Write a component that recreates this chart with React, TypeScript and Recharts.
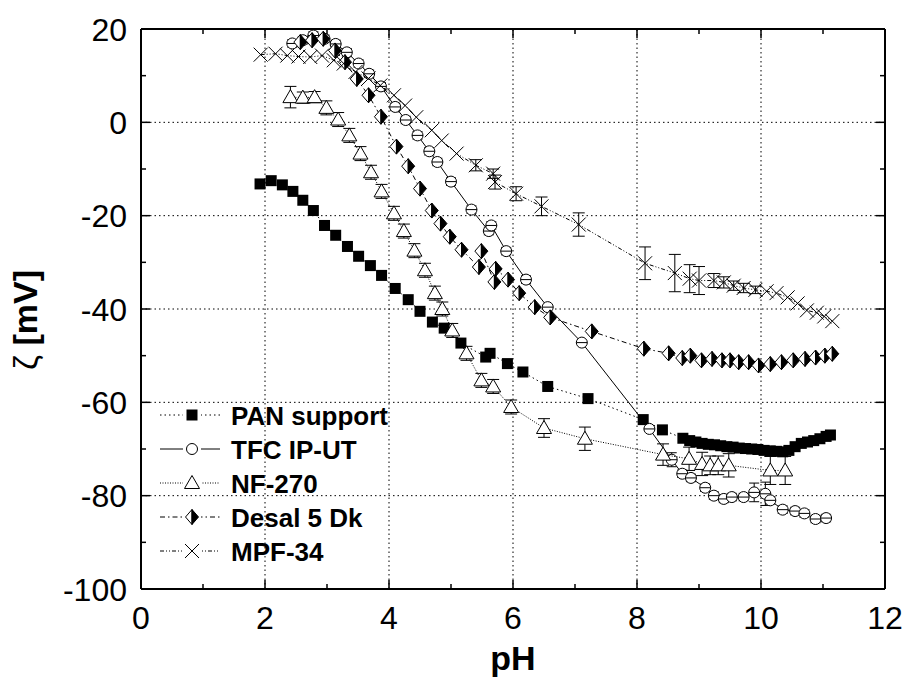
import { ScatterChart, Scatter, XAxis, YAxis, ReferenceLine, ErrorBar } from 'recharts';

// pH axis and zeta axis ticks
const xTicks = [0, 1, 2, 3, 4, 5, 6, 7, 8, 9, 10, 11, 12];
const xGrid = [2, 4, 6, 8, 10];
const yTicks = [-100, -90, -80, -70, -60, -50, -40, -30, -20, -10, 0, 10, 20];
const yGrid = [-80, -60, -40, -20, 0];

// PAN support
const panPh = [1.92, 2.10, 2.28, 2.45, 2.61, 2.78, 2.96, 3.14, 3.33, 3.51, 3.70, 3.88, 4.10, 4.31, 4.50, 4.70, 4.89,
  5.16, 5.56, 5.63, 5.91, 6.16, 6.56, 7.21, 8.10, 8.41, 8.74, 8.85, 8.95, 9.05, 9.15, 9.25, 9.35, 9.45, 9.55, 9.65,
  9.75, 9.85, 9.95, 10.05, 10.15, 10.25, 10.35, 10.45, 10.55, 10.65, 10.75, 10.85, 10.95, 11.05, 11.12];
const panZeta = [-13.2, -12.5, -13.4, -14.8, -16.7, -18.9, -22.1, -24.2, -26.6, -28.7, -30.7, -32.8, -35.6, -38.0,
  -40.5, -42.8, -44.1, -47.3, -50.3, -49.5, -51.7, -53.5, -56.6, -59.2, -63.7, -65.9, -67.7, -68.2, -68.5, -68.8,
  -69.0, -69.1, -69.3, -69.5, -69.6, -69.8, -69.9, -70.0, -70.1, -70.3, -70.4, -70.5, -70.6, -70.3, -69.5, -68.8,
  -68.5, -68.2, -67.8, -67.3, -67.0];

// TFC IP-UT
const tfcPh = [2.44, 2.61, 2.78, 2.96, 3.14, 3.32, 3.51, 3.68, 3.87, 4.10, 4.27, 4.46, 4.65, 4.78, 5.00, 5.33, 5.61,
  5.65, 5.89, 6.21, 6.56, 7.11, 8.20, 8.56, 8.73, 8.87, 9.10, 9.24, 9.40, 9.53, 9.72, 9.89, 10.07, 10.15, 10.35,
  10.55, 10.70, 10.88, 11.05];
const tfcZeta = [16.9, 17.6, 18.6, 17.9, 16.8, 15.0, 12.6, 10.4, 7.7, 3.3, 0.5, -2.8, -6.2, -8.5, -12.7, -18.7, -23.3,
  -22.1, -27.6, -33.7, -39.6, -47.2, -65.7, -72.3, -75.3, -76.2, -78.3, -80.0, -80.7, -80.3, -80.3, -79.3, -79.6,
  -81.0, -83.0, -83.3, -83.8, -85.0, -84.8];
const tfcErr = [0.8, 0.8, 0.8, 0.8, 0.8, 0.8, 0.8, 0.8, 0.8, 0.8, 0.8, 0.8, 0.8, 0.8, 0.8, 0.8, 0.8,
  0.8, 0.8, 0.8, null, null, null, 1.5, 0.8, 0.8, 0.8, 0.8, 0.8, 0.8, 0.8, 2.0, 2.5,
  0.8, 0.8, 0.8, 0.8, 0.8, 0.8];

// NF-270
const nfPh = [2.41, 2.61, 2.80, 2.99, 3.18, 3.36, 3.54, 3.71, 3.88, 4.08, 4.24, 4.41, 4.58, 4.74, 4.86, 5.02, 5.25,
  5.49, 5.68, 5.97, 6.50, 7.16, 8.42, 8.84, 9.05, 9.18, 9.31, 9.48, 10.15, 10.39];
const nfZeta = [5.4, 5.3, 5.4, 3.1, 0.6, -2.8, -6.7, -10.7, -14.8, -19.5, -23.3, -27.5, -31.7, -36.6, -40.0, -44.6,
  -49.5, -55.3, -56.6, -61.0, -65.5, -67.8, -71.2, -72.1, -73.2, -73.5, -73.5, -73.5, -74.6, -74.6];
const nfErr = [2.3, 1.2, 1.2, 1.5, 1.5, 1.5, 1.5, 1.5, 1.5, 1.5, 1.5, 1.5, 1.5, 1.5, 1.5, 1.5,
  1.5, 1.5, 1.5, 1.5, 2.0, 2.5, 2.3, 2.5, 2.5, 2.0, 2.0, 2.5, 3.0, 3.0];

// Desal 5 Dk
const dsPh = [2.57, 2.76, 2.94, 3.13, 3.29, 3.48, 3.67, 3.87, 4.12, 4.31, 4.50, 4.69, 4.83, 4.98, 5.17, 5.45, 5.49,
  5.70, 5.72, 5.92, 6.10, 6.35, 6.60, 7.27, 8.11, 8.51, 8.73, 8.86, 9.04, 9.21, 9.37, 9.50, 9.64, 9.80, 9.96,
  10.15, 10.33, 10.52, 10.71, 10.88, 11.03, 11.15];
const dsZeta = [17.2, 17.6, 17.9, 15.4, 12.9, 9.3, 5.8, 1.2, -5.2, -9.4, -14.2, -18.9, -21.7, -24.5, -27.3, -31.0,
  -27.6, -34.2, -31.4, -33.7, -36.6, -39.6, -41.8, -44.8, -48.5, -49.5, -50.5, -50.0, -51.0, -50.7, -51.0, -51.0,
  -51.4, -51.4, -52.1, -51.8, -51.4, -51.0, -50.7, -50.4, -50.0, -49.6];

// MPF-34
const mpPh = [1.93, 2.17, 2.36, 2.54, 2.73, 2.92, 3.11, 3.27, 3.46, 3.67, 3.86, 4.08, 4.26, 4.44, 4.69, 4.85, 5.09,
  5.40, 5.68, 5.71, 6.05, 6.46, 7.06, 8.13, 8.61, 8.85, 9.00, 9.24, 9.40, 9.56, 9.72, 9.91, 10.09, 10.25, 10.43,
  10.59, 10.74, 10.90, 11.02, 11.15];
const mpZeta = [14.5, 14.7, 14.3, 14.1, 14.0, 14.3, 13.3, 12.6, 10.8, 9.4, 7.9, 5.8, 3.6, 1.1, -1.7, -3.9, -6.7,
  -9.2, -11.0, -12.8, -15.3, -18.0, -21.9, -30.2, -32.3, -33.5, -33.9, -33.9, -34.3, -35.0, -35.5, -35.9, -36.2,
  -36.6, -37.5, -38.8, -40.3, -40.8, -41.6, -42.6];
const mpErr = [null, null, null, null, null, null, null, null, null, null, null, null, null, null, null, null, null,
  1.2, 1.0, 1.5, 1.5, 2.0, 2.5, 3.5, 4.0, 3.0, 3.0, 1.5, 1.2, 1.0, 1.0, 0.8, null,
  null, null, null, null, null, null, null];

const toPoints = (ph: number[], zeta: number[], err?: (number | null)[]) =>
  ph.map((p, i) => ({ ph: p, zeta: zeta[i], err: err ? err[i] : null }));

const W = 906;
const H = 682;
const PL = 141;
const PR = 885;
const PT = 29;
const PB = 589;
const FONT = 'Arial, "Liberation Sans", Helvetica, sans-serif';

const Square = ({ cx, cy }: any) => <rect x={cx - 5.5} y={cy - 5.5} width={11} height={11} fill="#000" />;
const OpenCircle = ({ cx, cy }: any) => <circle cx={cx} cy={cy} r={5.5} fill="#fff" stroke="#000" strokeWidth={1} />;
// plotted circles carry a short bar through the middle
const Circle = ({ cx, cy }: any) => (
  <g>
    <OpenCircle cx={cx} cy={cy} />
    <line x1={cx - 5.5} x2={cx + 5.5} y1={cy} y2={cy} stroke="#000" strokeWidth={1} />
  </g>
);
const Triangle = ({ cx, cy }: any) => (
  <polygon points={`${cx},${cy - 7.5} ${cx - 7.5},${cy + 5.5} ${cx + 7.5},${cy + 5.5}`} fill="#fff" stroke="#000" strokeWidth={1} />
);
const HalfDiamond = ({ cx, cy }: any) => (
  <g>
    <polygon points={`${cx},${cy - 7.5} ${cx - 6.5},${cy} ${cx},${cy + 7.5}`} fill="#fff" stroke="#000" strokeWidth={1} />
    <polygon points={`${cx},${cy - 7.5} ${cx + 6.5},${cy} ${cx},${cy + 7.5}`} fill="#000" stroke="#000" strokeWidth={1} />
  </g>
);
const Cross = ({ cx, cy }: any) => (
  <g stroke="#000" strokeWidth={1}>
    <line x1={cx - 7} y1={cy - 7} x2={cx + 7} y2={cy + 7} />
    <line x1={cx - 7} y1={cy + 7} x2={cx + 7} y2={cy - 7} />
  </g>
);

const series = [
  { name: 'PAN support', data: toPoints(panPh, panZeta), shape: Square, icon: Square, dash: '1.5 3', cap: 6 },
  { name: 'TFC IP-UT', data: toPoints(tfcPh, tfcZeta, tfcErr), shape: Circle, icon: OpenCircle, dash: undefined, cap: 5 },
  { name: 'NF-270', data: toPoints(nfPh, nfZeta, nfErr), shape: Triangle, icon: Triangle, dash: '1 1.5', cap: 6 },
  { name: 'Desal 5 Dk', data: toPoints(dsPh, dsZeta), shape: HalfDiamond, icon: HalfDiamond, dash: '5 3 1.5 3', cap: 6 },
  { name: 'MPF-34', data: toPoints(mpPh, mpZeta, mpErr), shape: Cross, icon: Cross, dash: '4 2 1 2 1 2', cap: 6 },
];

// inward ticks on both bottom and top frame edges
const XTick = ({ x, payload }: any) => {
  const v = payload.value;
  const major = v % 2 === 0;
  const len = major ? 9 : 5;
  return (
    <g>
      <line x1={x} x2={x} y1={PB} y2={PB - len} stroke="#000" strokeWidth={1.5} />
      <line x1={x} x2={x} y1={PT} y2={PT + len} stroke="#000" strokeWidth={1.5} />
      {major && (
        <text x={x} y={PB + 40} textAnchor="middle" fontSize={32} fontFamily={FONT} fill="#000">{v}</text>
      )}
    </g>
  );
};

// inward ticks on both left and right frame edges
const YTick = ({ y, payload }: any) => {
  const v = payload.value;
  const major = v % 20 === 0;
  const len = major ? 9 : 5;
  return (
    <g>
      <line x1={PL} x2={PL + len} y1={y} y2={y} stroke="#000" strokeWidth={1.5} />
      <line x1={PR} x2={PR - len} y1={y} y2={y} stroke="#000" strokeWidth={1.5} />
      {major && (
        <text x={PL - 14} y={y + 11.5} textAnchor="end" fontSize={32} fontFamily={FONT} fill="#000">{v}</text>
      )}
    </g>
  );
};

const LegendBox = () => (
  <svg width={W} height={H} style={{ position: 'absolute', left: 0, top: 0, pointerEvents: 'none' }}>
    {series.map((s, i) => {
      const cy = 415 + i * 34;
      const Icon = s.icon;
      return (
        <g key={s.name}>
          <line x1={160} x2={220} y1={cy} y2={cy} stroke="#000" strokeWidth={1} strokeDasharray={s.dash} />
          <rect x={183} y={cy - 8} width={18} height={16} fill="#fff" />
          <Icon cx={192} cy={cy} />
          <text x={231} y={cy + 9.5} fontSize={26} fontWeight="bold" fontFamily={FONT} fill="#000">{s.name}</text>
        </g>
      );
    })}
    <text
      transform={`translate(37, 320) rotate(-90)`}
      textAnchor="middle"
      fontSize={34}
      fontWeight="bold"
      fontFamily={FONT}
      fill="#000"
    >
      <tspan fontWeight="normal">ζ</tspan> [mV]
    </text>
    <text x={(PL + PR) / 2} y={670} textAnchor="middle" fontSize={34} fontWeight="bold" fontFamily={FONT} fill="#000">
      pH
    </text>
  </svg>
);

export default function App() {
  return (
    <div style={{ position: 'absolute', left: 0, top: 0, width: W, height: H, background: '#fff' }}>
      <ScatterChart width={W} height={H} margin={{ top: PT, right: W - PR, bottom: 0, left: 0 }}>
        <XAxis
          dataKey="ph"
          type="number"
          domain={[0, 12]}
          ticks={xTicks}
          interval={0}
          height={H - PB}
          tickLine={false}
          tick={<XTick />}
          axisLine={{ stroke: '#000', strokeWidth: 2 }}
        />
        <YAxis
          dataKey="zeta"
          type="number"
          domain={[-100, 20]}
          ticks={yTicks}
          interval={0}
          width={PL}
          tickLine={false}
          tick={<YTick />}
          axisLine={{ stroke: '#000', strokeWidth: 2 }}
        />
        {xGrid.map(v => (
          <ReferenceLine key={`gx${v}`} x={v} stroke="#000" strokeWidth={1} strokeDasharray="1.5 3" />
        ))}
        {yGrid.map(v => (
          <ReferenceLine key={`gy${v}`} y={v} stroke="#000" strokeWidth={1} strokeDasharray="1.5 3" />
        ))}
        <ReferenceLine y={20} stroke="#000" strokeWidth={2} />
        <ReferenceLine x={12} stroke="#000" strokeWidth={2} />
        {series.map(s => (
          <Scatter
            key={s.name}
            name={s.name}
            data={s.data}
            shape={s.shape}
            line={{ stroke: '#000', strokeWidth: 1, strokeDasharray: s.dash }}
            lineType="joint"
            isAnimationActive={false}
          >
            <ErrorBar dataKey="err" direction="y" width={s.cap} stroke="#000" strokeWidth={1} />
          </Scatter>
        ))}
      </ScatterChart>
      <LegendBox />
    </div>
  );
}
